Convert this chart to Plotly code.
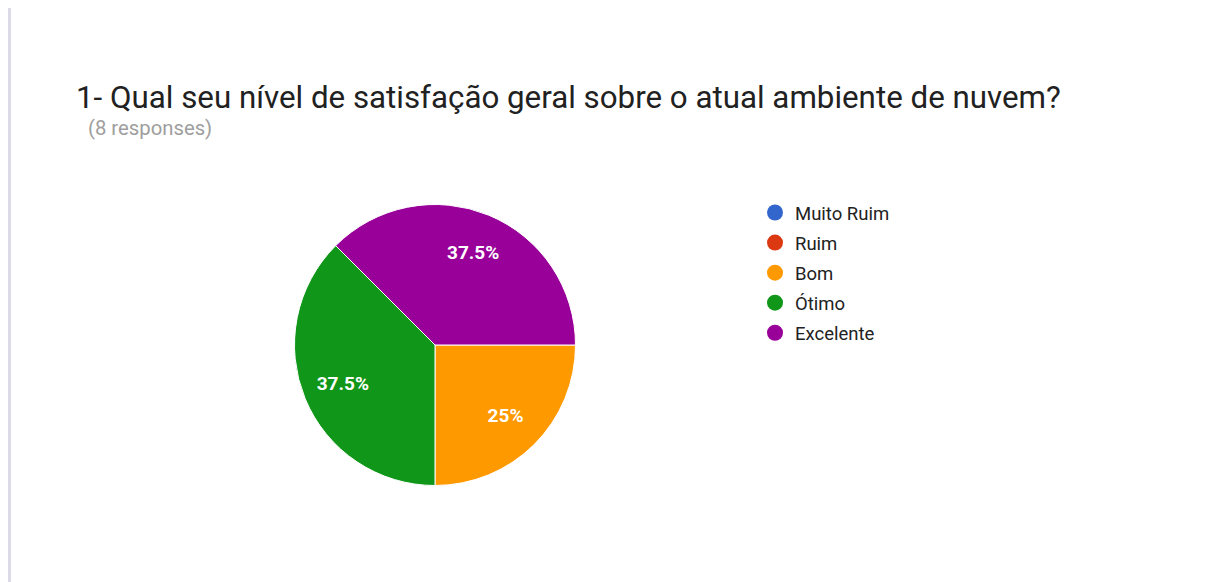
import plotly.graph_objects as go

categories = ["Muito Ruim", "Ruim", "Bom", "Ótimo", "Excelente"]
values = [0, 0, 2, 3, 3]
colors = ["#3366cc", "#dc3912", "#ff9900", "#109618", "#990099"]
title_text = "1- Qual seu nível de satisfação geral sobre o atual ambiente de nuvem?"
subtitle_text = "(8 responses)"

W, H = 1205, 582
OFF = 8  # page body margin
fig = go.Figure()

cx, cy, r = 435 - OFF, 345 - OFF, 140.5
dom = dict(x=[(cx - r) / W, (cx + r) / W], y=[1 - (cy + r) / H, 1 - (cy - r) / H])

# coloured pie
fig.add_trace(go.Pie(
    labels=categories, values=values, sort=False, direction="clockwise",
    rotation=90, marker=dict(colors=colors, line=dict(color="white", width=1)),
    textinfo="none", showlegend=False, hoverinfo="label+value+percent",
    domain=dom,
))
# transparent ring that carries the percentage labels further out
fig.add_trace(go.Pie(
    labels=categories, values=values, sort=False, direction="clockwise",
    rotation=90, hole=0.42,
    marker=dict(colors=["rgba(0,0,0,0)"] * len(categories), line=dict(width=0)),
    textinfo="percent", textposition="inside", insidetextorientation="horizontal",
    texttemplate="<b>%{percent:.3~p}</b>",
    textfont=dict(family="Roboto", size=19, color="white"),
    showlegend=False, hoverinfo="skip", domain=dom,
))

for i, (c, col) in enumerate(zip(categories, colors)):
    fig.add_trace(go.Scatter(x=[None], y=[None], mode="markers", name=c,
                             legendgroup=f"g{i}",
                             marker=dict(color=col, size=16, symbol="circle")))

fig.update_layout(
    width=W, height=H, margin=dict(l=0, r=0, t=0, b=0),
    paper_bgcolor="white", plot_bgcolor="white",
    xaxis=dict(visible=False, domain=[0.9, 0.95]), yaxis=dict(visible=False, domain=[0.0, 0.05]),
    legend=dict(x=(755 - OFF) / W, y=1 - (194 - OFF) / H, xanchor="left", yanchor="top",
                font=dict(family="Roboto", size=18.5, color="#222222"),
                tracegroupgap=3, itemsizing="trace", bgcolor="rgba(0,0,0,0)"),
    annotations=[
        dict(text=title_text, x=(77 - OFF - 3) / W, y=1 - (97 - OFF) / H, xref="paper", yref="paper",
             xanchor="left", yanchor="middle", showarrow=False,
             font=dict(family="Roboto", size=31.3, color="#212121")),
        dict(text=subtitle_text, x=(89 - OFF - 3) / W, y=1 - (128 - OFF) / H, xref="paper", yref="paper",
             xanchor="left", yanchor="middle", showarrow=False,
             font=dict(family="Roboto", size=20.3, color="#9e9e9e")),
    ],
    shapes=[dict(type="line", xref="paper", yref="paper", x0=(9.5 - OFF) / W, x1=(9.5 - OFF) / W,
                 y0=-0.05, y1=1.05, line=dict(color="#dcdae6", width=3))],
)

fig.write_html("out.html")
